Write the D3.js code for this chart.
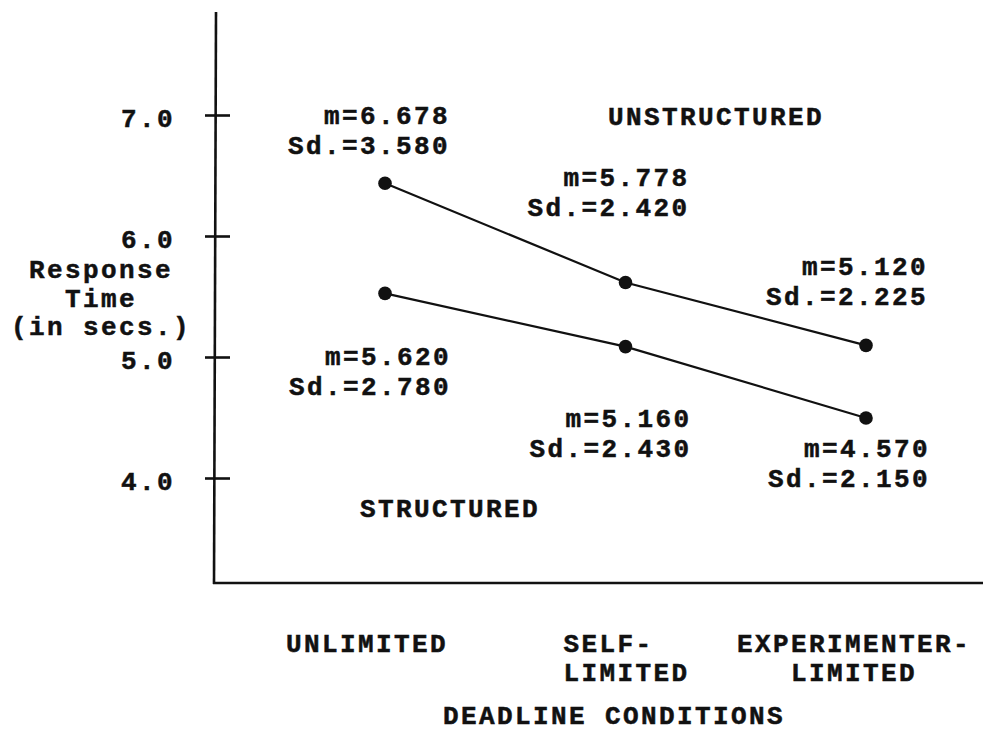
<!DOCTYPE html>
<html>
<head>
<meta charset="utf-8">
<script src="https://cdn.jsdelivr.net/npm/d3@7"></script>
<style>
  html, body { margin: 0; padding: 0; background: #fff; }
  svg { display: block; }
  text { font-family: "Liberation Mono", "Courier New", monospace; font-weight: bold; font-size: 26px; letter-spacing: 2.4px; fill: #111; stroke: #111; stroke-width: 0.5px; }
</style>
</head>
<body>
<script>
// ---- data ----
const categories = ["UNLIMITED", "SELF-LIMITED", "EXPERIMENTER-LIMITED"];
const categoryLines = [["UNLIMITED"], ["SELF-", "LIMITED"], ["EXPERIMENTER-", "LIMITED"]];
const seriesNames = ["UNSTRUCTURED", "STRUCTURED"];
const unstructuredValues = [6.44, 5.62, 5.10];
const structuredValues = [5.53, 5.09, 4.50];
const unstructuredMeans = ["m=6.678", "m=5.778", "m=5.120"];
const unstructuredSds = ["Sd.=3.580", "Sd.=2.420", "Sd.=2.225"];
const structuredMeans = ["m=5.620", "m=5.160", "m=4.570"];
const structuredSds = ["Sd.=2.780", "Sd.=2.430", "Sd.=2.150"];
const yTicks = [4, 5, 6, 7];
const yTitle = ["Response", "Time", "(in secs.)"];
const xTitle = "DEADLINE CONDITIONS";

// ---- layout ----
const W = 987, H = 734;
const svg = d3.select("body").append("svg").attr("width", W).attr("height", H);

const axisX = 214, axisBottom = 583, axisTop = 12, axisRight = 983;
const y = d3.scaleLinear().domain([4, 7]).range([478.5, 115.5]);
const x = d3.scalePoint().domain(categories).range([385, 866]);

// axes
svg.append("line").attr("x1", axisX + 2).attr("y1", axisTop).attr("x2", axisX).attr("y2", axisBottom + 1)
  .attr("stroke", "#111").attr("stroke-width", 2.6);
svg.append("line").attr("x1", axisX - 1).attr("y1", axisBottom).attr("x2", axisRight).attr("y2", axisBottom)
  .attr("stroke", "#111").attr("stroke-width", 2.6);

// ticks crossing the axis
const tg = svg.append("g");
tg.selectAll("line").data(yTicks).join("line")
  .attr("x1", axisX - 9).attr("x2", axisX + 16)
  .attr("y1", d => y(d)).attr("y2", d => y(d))
  .attr("stroke", "#111").attr("stroke-width", 2.6);
tg.selectAll("text").data(yTicks).join("text")
  .attr("x", 175).attr("y", d => y(d) + 11)
  .attr("text-anchor", "end")
  .text(d => d3.format(".1f")(d));

// y title
svg.append("g").selectAll("text").data(yTitle).join("text")
  .attr("x", 101).attr("y", (d, i) => 278 + i * 28.5)
  .attr("text-anchor", "middle").text(d => d);

// lines + points
const line = d3.line().x((d, i) => x(categories[i])).y(d => y(d));
[unstructuredValues, structuredValues].forEach(vals => {
  svg.append("path").attr("d", line(vals)).attr("fill", "none")
    .attr("stroke", "#111").attr("stroke-width", 2.2);
  svg.append("g").selectAll("circle").data(vals).join("circle")
    .attr("cx", (d, i) => x(categories[i])).attr("cy", d => y(d))
    .attr("r", 6.8).attr("fill", "#111");
});

// annotation labels (offsets relative to each point)
const lblOffsets = {
  u: [[65, -59], [64, -96], [62, -70]],
  s: [[66, 72], [66, 80], [64, 39]]
};
function addLabels(vals, means, sds, offs) {
  vals.forEach((v, i) => {
    const px = x(categories[i]) + offs[i][0], py = y(v) + offs[i][1];
    svg.append("text").attr("x", px).attr("y", py).attr("text-anchor", "end").text(means[i]);
    svg.append("text").attr("x", px).attr("y", py + 30).attr("text-anchor", "end").text(sds[i]);
  });
}
addLabels(unstructuredValues, unstructuredMeans, unstructuredSds, lblOffsets.u);
addLabels(structuredValues, structuredMeans, structuredSds, lblOffsets.s);

// series names
svg.append("text").attr("x", 608).attr("y", 125).text(seriesNames[0]);
svg.append("text").attr("x", 360).attr("y", 517).text(seriesNames[1]);

// category labels
const catAnchor = ["middle", "start", "middle"];
const catDx = [-18, -62, -12];
categoryLines.forEach((lines, i) => {
  lines.forEach((t, j) => {
    svg.append("text")
      .attr("x", x(categories[i]) + catDx[i]).attr("y", 652 + j * 29)
      .attr("text-anchor", catAnchor[i]).text(t);
  });
});

// x title
svg.append("text").attr("x", 614).attr("y", 724).attr("text-anchor", "middle").text(xTitle);
</script>
</body>
</html>
